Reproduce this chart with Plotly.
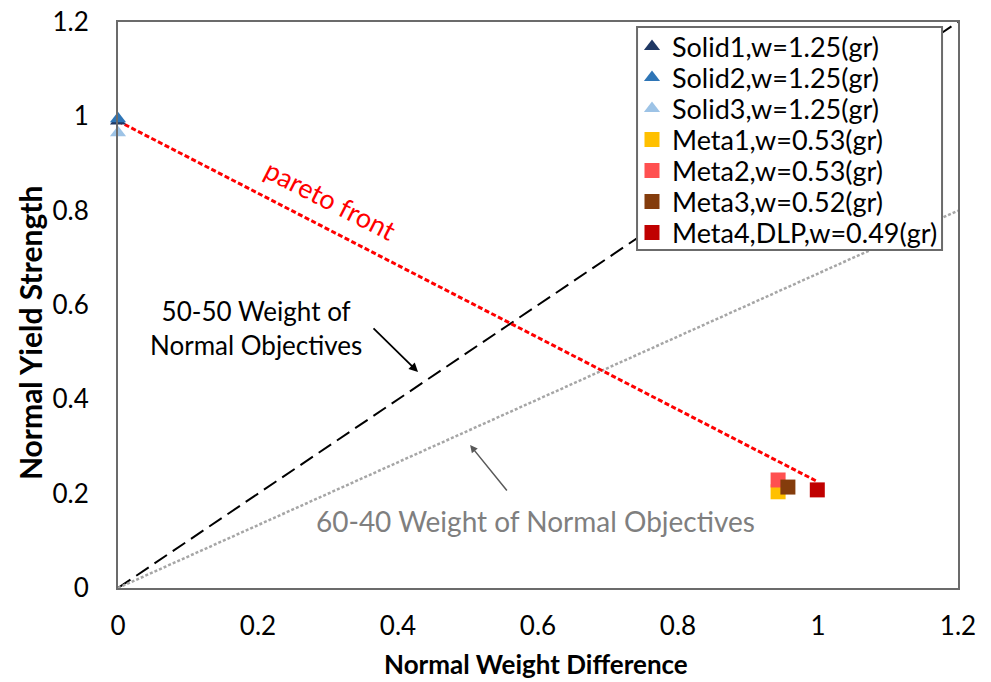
import plotly.graph_objects as go

# Measured points (normalised weight difference vs normalised yield strength)
series_names = [
    "Solid1,w=1.25(gr)", "Solid2,w=1.25(gr)", "Solid3,w=1.25(gr)",
    "Meta1,w=0.53(gr)", "Meta2,w=0.53(gr)", "Meta3,w=0.52(gr)",
    "Meta4,DLP,w=0.49(gr)",
]
weight_diff = [0.0, 0.0, 0.0, 0.943, 0.943, 0.957, 0.999]
yield_strength = [0.99, 0.995, 0.965, 0.204, 0.229, 0.214, 0.208]
series_colors = ["#1F3864", "#2E75B6", "#9DC3E6",
                 "#FFC000", "#FF5050", "#843C0C", "#C00000"]
series_symbols = ["triangle-up"] * 3 + ["square"] * 4

# Reference lines
pareto_x = [0.0, 1.0]
pareto_y = [0.99, 0.225]
w5050_x = [0.0, 1.2]
w5050_y = [0.0, 1.2]
w6040_x = [0.0, 1.2]
w6040_y = [0.0, 0.8]

tick_vals = [0, 0.2, 0.4, 0.6, 0.8, 1, 1.2]
tick_text = ["0", "0.2", "0.4", "0.6", "0.8", "1", "1.2"]

FONT = "Lato"
FRAME = "#6B6B6B"

fig = go.Figure()

fig.add_trace(go.Scatter(x=w5050_x, y=w5050_y, mode="lines", showlegend=False,
                         line=dict(color="black", width=2, dash="15px,7px"),
                         hoverinfo="skip"))
fig.add_trace(go.Scatter(x=w6040_x, y=w6040_y, mode="lines", showlegend=False,
                         line=dict(color="#A6A6A6", width=2.5, dash="3px,2px"),
                         hoverinfo="skip"))
fig.add_trace(go.Scatter(x=pareto_x, y=pareto_y, mode="lines", showlegend=False,
                         line=dict(color="#FF0000", width=3, dash="5px,2.5px"),
                         hoverinfo="skip"))

# one legend per series so the rows can sit closer than plotly's default spacing
legend_left = 0.6119
row_top_px, row_step_px = 47, 31
legends = {}
for i, name in enumerate(series_names):
    key = "legend" if i == 0 else f"legend{i + 1}"
    size = 14 if series_symbols[i] == "triangle-up" else 15
    fig.add_trace(go.Scatter(
        x=[weight_diff[i]], y=[yield_strength[i]], mode="markers", name=name,
        legend=key, cliponaxis=False,
        marker=dict(symbol=series_symbols[i], size=size, color=series_colors[i],
                    line=dict(width=0)),
    ))
    legends[key] = dict(
        x=legend_left, y=(588 - (row_top_px + i * row_step_px)) / 566,
        xanchor="left", yanchor="middle",
        bgcolor="rgba(0,0,0,0)", borderwidth=0,
        font=dict(family=FONT, size=27, color="black"),
    )

axis_common = dict(
    range=[0, 1.2], tickvals=tick_vals, ticktext=tick_text,
    showgrid=False, zeroline=False, ticks="", automargin=False,
    showline=True, linecolor=FRAME, linewidth=2, mirror=True,
    tickfont=dict(family=FONT, size=26, color="black"),
)

fig.update_layout(
    width=991, height=682,
    margin=dict(l=118, r=33, t=22, b=94),
    paper_bgcolor="white", plot_bgcolor="white",
    xaxis=dict(**axis_common, ticklabelstandoff=14),
    yaxis=dict(**axis_common, ticklabelstandoff=22),
    showlegend=True,
    font=dict(family=FONT),
    **legends,
)

# legend frame
fig.add_shape(type="rect", xref="paper", yref="paper",
              x0=0.6179, x1=0.981, y0=0.5972, y1=0.9912,
              line=dict(color=FRAME, width=2), fillcolor="white", layer="above")

annotations = [
    dict(x=0.303, y=0.823, xref="x", yref="y", text="pareto front", showarrow=False,
         textangle=27, font=dict(family=FONT, size=27, color="#FF0000")),
    dict(x=0.197, y=0.551, xref="x", yref="y",
         text="50-50 Weight of<br>Normal Objectives", showarrow=False,
         font=dict(family=FONT, size=26, color="black")),
    dict(x=0.4286, y=0.458, xref="x", yref="y", ax=-46, ay=-45, text="",
         showarrow=True, arrowhead=2, arrowsize=1, arrowwidth=1.8, arrowcolor="black"),
    dict(x=0.597, y=0.142, xref="x", yref="y",
         text="60-40 Weight of Normal Objectives", showarrow=False,
         font=dict(family=FONT, size=28, color="#7F7F7F")),
    dict(x=0.503, y=0.303, xref="x", yref="y", ax=38, ay=47, text="",
         showarrow=True, arrowhead=2, arrowsize=1, arrowwidth=1.5, arrowcolor="#595959"),
    dict(x=0.4976, y=-0.1343, xref="paper", yref="paper", xanchor="center", yanchor="middle",
         text="<b>Normal Weight Difference</b>", showarrow=False,
         font=dict(family=FONT, size=26, color="black")),
    dict(x=-0.1047, y=0.4505, xref="paper", yref="paper", xanchor="center", yanchor="middle",
         text="<b>Normal Yield Strength</b>", showarrow=False, textangle=-90,
         font=dict(family=FONT, size=30, color="black")),
]
fig.update_layout(annotations=annotations)

fig.write_html("out.html")
